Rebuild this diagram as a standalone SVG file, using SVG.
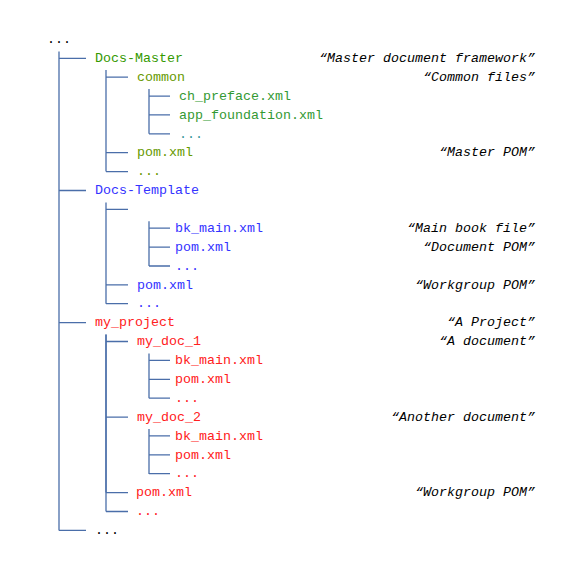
<svg xmlns="http://www.w3.org/2000/svg" width="576" height="576" viewBox="0 0 576 576">
<style>
text{font-family:"Liberation Mono","DejaVu Sans Mono",monospace;font-size:13.33px}
.k{fill:#000}
.g1{fill:#339900}
.g2{fill:#669900}
.g3{fill:#339933}
.g4{fill:#339999}
.b{fill:#3333ff}
.r{fill:#ff2020}
.n{font-style:italic;fill:#000;text-anchor:end}
#connectors path{fill:none;stroke:#4a6ea9;stroke-width:1.3}
</style>
<rect width="576" height="576" fill="#fff"/>
<g id="connectors">
<path d="M59 51.5V530.4M59 58.3H86M59 190.5H86M59 322.6H86M59 530.4H86"/>
<path d="M106 70V171.6M106 77.2H128M106 152.7H128M106 171.6H128"/>
<path d="M149 89V133.8M149 96.1H170M149 114.9H170M149 133.8H170"/>
<path d="M106 202.4V303.7M106 209.3H128M106 284.9H128M106 303.7H128"/>
<path d="M149 221.2V266M149 228.2H170M149 247.1H170M149 266H170"/>
<path d="M106 334.5V492.6M106 341.5H128M106 417.1H128M106 492.6H128M106 511.5H128"/>
<path d="M106 334.5V511.5"/>
<path d="M149 353.4V398.2M149 360.4H170M149 379.3H170M149 398.2H170"/>
<path d="M149 429V474M149 435.9H170M149 454.8H170M149 473.7H170"/>
</g>
<g id="root"><text class="k" x="47" y="43.1">...</text></g>
<g id="docs-master"><text class="g1" x="95" y="62">Docs-Master</text><text class="n" x="535" y="62">“Master document framework”</text></g>
<g id="dm-common"><text class="g2" x="137" y="80.9">common</text><text class="n" x="535" y="80.9">“Common files”</text></g>
<g id="dm-ch-preface"><text class="g3" x="179" y="99.8">ch_preface.xml</text></g>
<g id="dm-app-foundation"><text class="g3" x="179" y="118.6">app_foundation.xml</text></g>
<g id="dm-common-more"><text class="g4" x="179" y="137.5">...</text></g>
<g id="dm-pom"><text class="g2" x="137" y="156.4">pom.xml</text><text class="n" x="535" y="156.4">“Master POM”</text></g>
<g id="dm-more"><text class="g2" x="137" y="175.3">...</text></g>
<g id="docs-template"><text class="b" x="95" y="194.2">Docs-Template</text></g>
<g id="dt-blank"></g>
<g id="dt-bk-main"><text class="b" x="175" y="231.9">bk_main.xml</text><text class="n" x="535" y="231.9">“Main book file”</text></g>
<g id="dt-doc-pom"><text class="b" x="175" y="250.8">pom.xml</text><text class="n" x="535" y="250.8">“Document POM”</text></g>
<g id="dt-doc-more"><text class="b" x="175" y="269.7">...</text></g>
<g id="dt-pom"><text class="b" x="137" y="288.6">pom.xml</text><text class="n" x="535" y="288.6">“Workgroup POM”</text></g>
<g id="dt-more"><text class="b" x="137" y="307.4">...</text></g>
<g id="my-project"><text class="r" x="95" y="326.3">my_project</text><text class="n" x="535" y="326.3">“A Project”</text></g>
<g id="my-doc-1"><text class="r" x="137" y="345.2">my_doc_1</text><text class="n" x="535" y="345.2">“A document”</text></g>
<g id="d1-bk-main"><text class="r" x="175" y="364.1">bk_main.xml</text></g>
<g id="d1-pom"><text class="r" x="175" y="383">pom.xml</text></g>
<g id="d1-more"><text class="r" x="175" y="401.9">...</text></g>
<g id="my-doc-2"><text class="r" x="137" y="420.8">my_doc_2</text><text class="n" x="535" y="420.8">“Another document”</text></g>
<g id="d2-bk-main"><text class="r" x="175" y="439.6">bk_main.xml</text></g>
<g id="d2-pom"><text class="r" x="175" y="458.5">pom.xml</text></g>
<g id="d2-more"><text class="r" x="175" y="477.4">...</text></g>
<g id="mp-pom"><text class="r" x="136" y="496.3">pom.xml</text><text class="n" x="535" y="496.3">“Workgroup POM”</text></g>
<g id="mp-more"><text class="r" x="136" y="515.2">...</text></g>
<g id="root-more"><text class="k" x="95" y="534.1">...</text></g>
</svg>
